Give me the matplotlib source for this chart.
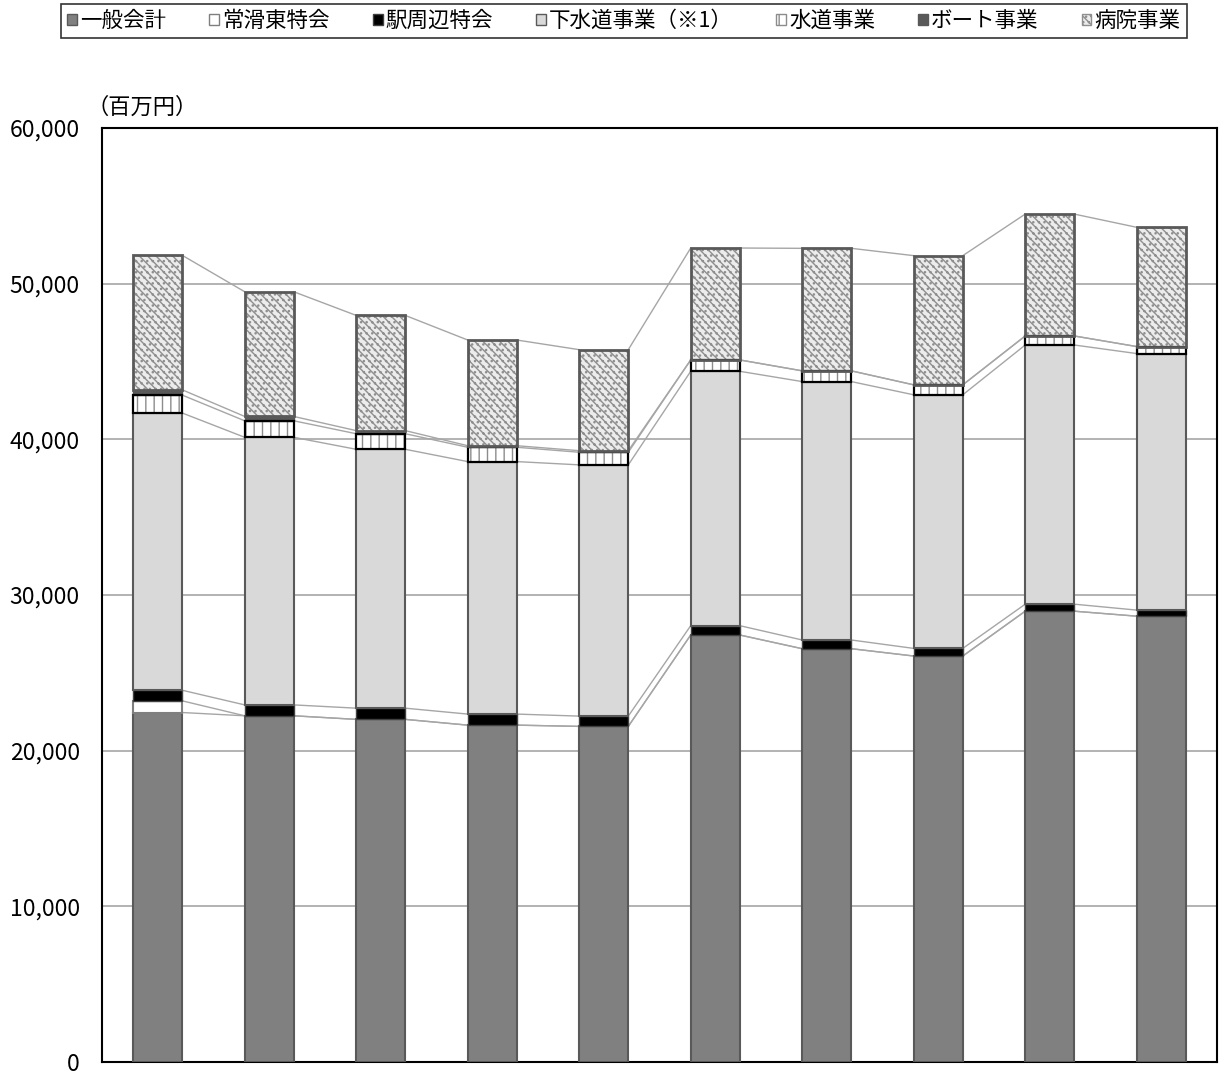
import matplotlib.pyplot as plt
from matplotlib.patches import Patch
from matplotlib.ticker import FuncFormatter
import numpy as np

plt.rcParams['font.family'] = ['Noto Sans CJK JP', 'DejaVu Sans']
plt.rcParams['hatch.linewidth'] = 1.0

# 各会計の値（百万円）、左から順に10年度分
labels = ['一般会計', '常滑東特会', '駅周辺特会', '下水道事業（※1）', '水道事業', 'ボート事業', '病院事業']
ippan = [22450, 22240, 22010, 21640, 21560, 27430, 26550, 26080, 28960, 28640]
tokoname = [750, 0, 0, 0, 0, 0, 0, 0, 0, 0]
eki = [680, 700, 720, 710, 660, 600, 560, 490, 450, 390]
gesui = [17810, 17190, 16630, 16220, 16140, 16340, 16600, 16290, 16650, 16480]
suido = [1150, 1060, 1000, 920, 810, 730, 690, 640, 580, 450]
boat = [340, 280, 200, 100, 100, 0, 0, 0, 0, 0]
byoin = [8640, 8010, 7400, 6790, 6490, 7190, 7870, 8300, 7830, 7660]

series = [ippan, tokoname, eki, gesui, suido, boat, byoin]
# (塗り, 枠, 枠の太さ, ハッチ, ハッチ色)
styles = [
    ('#808080', '#595959', 1.5, None, None),
    ('white', '#7f7f7f', 1.5, None, None),
    ('black', '#404040', 1.0, None, None),
    ('#d9d9d9', '#595959', 1.5, None, None),
    ('white', 'black', 1.6, '||', '#8c8c8c'),
    ('#595959', '#595959', 1.0, None, None),
    ('#ececec', '#595959', 2.0, '\\\\\\\\...', '#8f8f8f'),
]

x = np.arange(len(ippan))
w = 0.44

fig = plt.figure(figsize=(12.2, 10.75), dpi=100)
ax = fig.add_axes([102 / 1220, 13 / 1075, 1115 / 1220, 934 / 1075])

bottom = np.zeros(len(x))
tops = []
for vals, st in zip(series, styles):
    vals = np.array(vals, dtype=float)
    face, edge, lw, hatch, hcol = st
    for i in range(len(x)):
        if vals[i] <= 0:
            continue
        if hatch:
            ax.bar(x[i], vals[i], w, bottom=bottom[i], color=face, edgecolor=hcol,
                   hatch=hatch, linewidth=0, zorder=3)
            ax.bar(x[i], vals[i], w, bottom=bottom[i], fill=False, edgecolor=edge,
                   linewidth=lw, zorder=4)
        else:
            ax.bar(x[i], vals[i], w, bottom=bottom[i], color=face, edgecolor=edge,
                   linewidth=lw, zorder=3)
    bottom = bottom + vals
    tops.append(bottom.copy())

# 系列線
for t in tops:
    for i in range(len(x) - 1):
        ax.plot([x[i] + w / 2, x[i + 1] - w / 2], [t[i], t[i + 1]],
                color='#a6a6a6', lw=1.0, zorder=2)

ax.set_xlim(-0.5, len(x) - 0.5)
ax.set_ylim(0, 60000)
ax.set_yticks(range(0, 60001, 10000))
ax.yaxis.set_major_formatter(FuncFormatter(lambda v, p: f'{int(v):,}'))
ax.set_xticks([])
ax.tick_params(axis='y', length=0, labelsize=16.5, pad=16)
ax.grid(axis='y', color='#a6a6a6', lw=1.2, zorder=0)
ax.set_axisbelow(True)
for s in ax.spines.values():
    s.set_color('black')
    s.set_linewidth(1.5)

fig.text(86 / 1220, 1 - 107 / 1075, '（百万円）', fontsize=16, ha='left', va='center')

handles = []
for lab, st in zip(labels, styles):
    face, edge, lw, hatch, hcol = st
    handles.append(Patch(facecolor=face, edgecolor=edge if not hatch else hcol,
                         hatch=hatch, linewidth=1.0, label=lab))
leg = fig.legend(handles=handles, loc='center', bbox_to_anchor=(624 / 1220, 1 - 21 / 1075),
                 ncol=7, fontsize=15.5, frameon=True, fancybox=False, handlelength=0.45,
                 handleheight=0.45, handletextpad=0.15, columnspacing=2.0,
                 borderpad=0.3, borderaxespad=0)
leg.get_frame().set_edgecolor('black')
leg.get_frame().set_linewidth(1.2)

fig.savefig('out.png', dpi=100)
